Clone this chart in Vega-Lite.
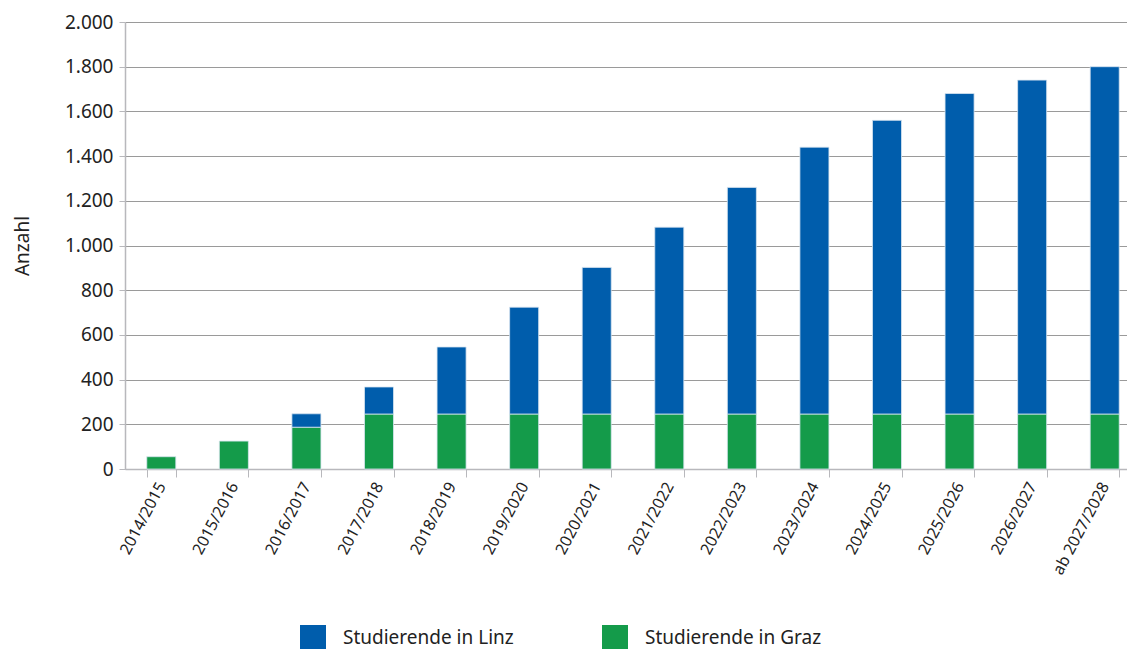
{
  "$schema": "https://vega.github.io/schema/vega-lite/v6.json",
  "autosize": {"type": "none"},
  "width": 1016,
  "height": 447,
  "padding": {"left": 125, "top": 22, "right": 0, "bottom": 180},
  "background": "white",
  "data": {
    "values": [
      {"jahr": "2014/2015", "gruppe": "Studierende in Graz", "anzahl": 55},
      {"jahr": "2015/2016", "gruppe": "Studierende in Graz", "anzahl": 125},
      {"jahr": "2016/2017", "gruppe": "Studierende in Graz", "anzahl": 187},
      {"jahr": "2016/2017", "gruppe": "Studierende in Linz", "anzahl": 60},
      {"jahr": "2017/2018", "gruppe": "Studierende in Graz", "anzahl": 246},
      {"jahr": "2017/2018", "gruppe": "Studierende in Linz", "anzahl": 121},
      {"jahr": "2018/2019", "gruppe": "Studierende in Graz", "anzahl": 246},
      {"jahr": "2018/2019", "gruppe": "Studierende in Linz", "anzahl": 300},
      {"jahr": "2019/2020", "gruppe": "Studierende in Graz", "anzahl": 246},
      {"jahr": "2019/2020", "gruppe": "Studierende in Linz", "anzahl": 478},
      {"jahr": "2020/2021", "gruppe": "Studierende in Graz", "anzahl": 246},
      {"jahr": "2020/2021", "gruppe": "Studierende in Linz", "anzahl": 656},
      {"jahr": "2021/2022", "gruppe": "Studierende in Graz", "anzahl": 246},
      {"jahr": "2021/2022", "gruppe": "Studierende in Linz", "anzahl": 836},
      {"jahr": "2022/2023", "gruppe": "Studierende in Graz", "anzahl": 246},
      {"jahr": "2022/2023", "gruppe": "Studierende in Linz", "anzahl": 1014},
      {"jahr": "2023/2024", "gruppe": "Studierende in Graz", "anzahl": 246},
      {"jahr": "2023/2024", "gruppe": "Studierende in Linz", "anzahl": 1194},
      {"jahr": "2024/2025", "gruppe": "Studierende in Graz", "anzahl": 246},
      {"jahr": "2024/2025", "gruppe": "Studierende in Linz", "anzahl": 1314},
      {"jahr": "2025/2026", "gruppe": "Studierende in Graz", "anzahl": 246},
      {"jahr": "2025/2026", "gruppe": "Studierende in Linz", "anzahl": 1434},
      {"jahr": "2026/2027", "gruppe": "Studierende in Graz", "anzahl": 246},
      {"jahr": "2026/2027", "gruppe": "Studierende in Linz", "anzahl": 1494},
      {"jahr": "ab 2027/2028", "gruppe": "Studierende in Graz", "anzahl": 246},
      {"jahr": "ab 2027/2028", "gruppe": "Studierende in Linz", "anzahl": 1554}
    ]
  },
  "mark": {"type": "bar", "stroke": "#d8e4f0", "strokeWidth": 0.8},
  "encoding": {
    "x": {
      "field": "jahr",
      "type": "nominal",
      "sort": null,
      "scale": {"paddingInner": 0.6, "paddingOuter": 0.3},
      "axis": {
        "title": null,
        "labelAngle": -62,
        "labelFontSize": 16,
        "labelColor": "#222",
        "labelFont": "Noto Sans",
        "labelPadding": 6,
        "tickBand": "extent",
        "tickSize": 8,
        "tickColor": "#b8b8bc",
        "domainColor": "#b8b8bc",
        "domainWidth": 1.5,
        "grid": false
      }
    },
    "y": {
      "field": "anzahl",
      "type": "quantitative",
      "stack": "zero",
      "scale": {"domain": [0, 2000]},
      "axis": {
        "title": "Anzahl",
        "titleFont": "Noto Sans",
        "titleFontSize": 19,
        "titleFontWeight": "normal",
        "titleColor": "#222",
        "titlePadding": 32,
        "values": [0, 200, 400, 600, 800, 1000, 1200, 1400, 1600, 1800, 2000],
        "labelExpr": "replace(format(datum.value, ','), ',', '.')",
        "labelFont": "Noto Sans",
        "labelFontSize": 19,
        "labelColor": "#222",
        "labelPadding": 6,
        "tickSize": 6,
        "tickColor": "#b8b8bc",
        "domainColor": "#b8b8bc",
        "domainWidth": 1.5,
        "gridColor": "#9a9a9a",
        "gridWidth": 1
      }
    },
    "color": {
      "field": "gruppe",
      "type": "nominal",
      "scale": {
        "domain": ["Studierende in Linz", "Studierende in Graz"],
        "range": ["#005DAC", "#149B4A"]
      },
      "legend": {
        "title": null,
        "orient": "none",
        "legendX": 175,
        "legendY": 603,
        "direction": "horizontal",
        "symbolType": "square",
        "symbolSize": 676,
        "symbolStrokeWidth": 0,
        "symbolOpacity": 1,
        "labelFont": "Noto Sans",
        "labelFontSize": 19,
        "labelColor": "#222",
        "labelOffset": 17,
        "labelLimit": 400,
        "columnPadding": 88
      }
    },
    "order": {"field": "gruppe", "sort": "ascending"}
  },
  "config": {"view": {"stroke": null}}
}
